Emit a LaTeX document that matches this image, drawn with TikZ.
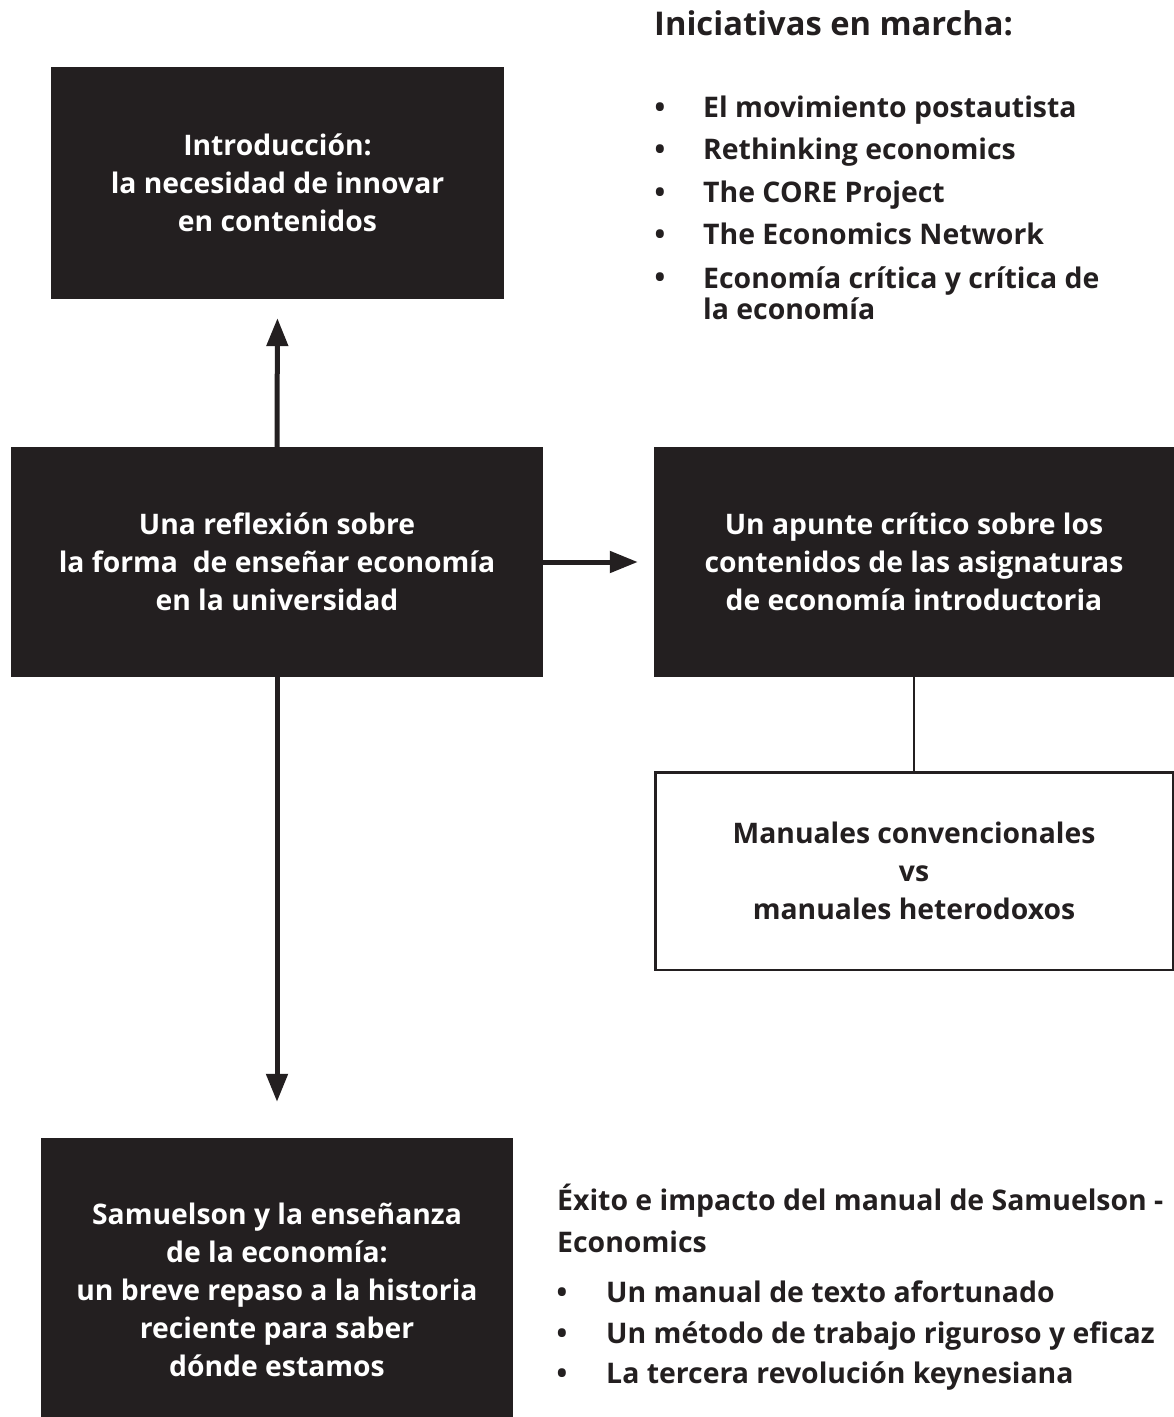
\documentclass[tikz,border=0pt]{standalone}
\usepackage{fontspec}
\setmainfont{Open Sans}
\usetikzlibrary{arrows.meta}
\definecolor{ink}{HTML}{231F20}
\newcommand\bxfont{\bfseries\fontsize{28.3}{38}\selectfont}
\newcommand\hdfont{\bfseries\fontsize{32.7}{40}\selectfont}
\newcommand\lsfont{\bfseries\fontsize{28.4}{31}\selectfont}
\begin{document}
\begin{tikzpicture}[x=1pt,y=-1pt,
  darkbox/.style={fill=ink,draw=none,text=white,align=center,font=\bxfont,inner sep=0pt},
  whitebox/.style={draw=ink,line width=2.5pt,fill=white,text=ink,align=center,font=\bxfont,inner sep=0pt},
  arr/.style={draw=ink,line width=5pt,-{Triangle[width=21pt,length=28pt]}},
  link/.style={draw=ink,line width=2.5pt},
  lst/.style={anchor=base west,font=\lsfont,text=ink,align=left,inner sep=0pt},
  bul/.style={anchor=base,font=\lsfont,text=ink,inner sep=0pt}]
\useasboundingbox (0,0) rectangle (1174,1417);
% boxes
\node[darkbox,minimum width=453pt,minimum height=232pt] (A) at (277.5,183) {Introducción:\\la necesidad de innovar\\en contenidos};
\node[darkbox,minimum width=532pt,minimum height=230pt] (B) at (277,562) {Una reflexión sobre\\la forma~ de enseñar economía\\en la universidad};
\node[darkbox,minimum width=520pt,minimum height=230pt] (C) at (914,562) {Un apunte crítico sobre los\\contenidos de las asignaturas\\de economía introductoria};
\node[whitebox,minimum width=517.5pt,minimum height=197.5pt] (D) at (914,871) {Manuales convencionales\\vs\\manuales heterodoxos};
\node[darkbox,minimum width=472pt,minimum height=279pt] (E) at (277,1277.5) {};
\node[text=white,align=center,font=\bxfont,inner sep=0pt] (Et) at (277,1290) {Samuelson y la enseñanza\\de la economía:\\un breve repaso a la historia\\reciente para saber\\dónde estamos};
% connectors
\draw[arr,shorten >=19pt] (B.north) -- (A.south);
\draw[arr,shorten >=16pt] (B.east) -- (C.west);
\draw[arr,shorten >=36pt] (B.south) -- (E.north);
\draw[link] (C.south) -- (D.north);
% top right list
\node[anchor=base west,font=\hdfont,text=ink,inner sep=0pt] (T) at (654,35) {Iniciativas en marcha:};
\node[bul] (b1) at (660,117) {•};
\node[lst] (i1) at (703,117) {El movimiento postautista};
\node[bul] (b2) at (660,159.5) {•};
\node[lst] (i2) at (703,159.5) {Rethinking economics};
\node[bul] (b3) at (660,202) {•};
\node[lst] (i3) at (703,202) {The CORE Project};
\node[bul] (b4) at (660,244.5) {•};
\node[lst] (i4) at (703,244.5) {The Economics Network};
\node[bul] (b5) at (660,287) {•};
\node[lst] (i5) at (703,319) {Economía crítica y crítica de\\la economía};
% bottom right list
\node[lst,font=\bfseries\fontsize{28.4}{42}\selectfont] (S) at (557,1252) {Éxito e impacto del manual de Samuelson -\\Economics};
\node[bul] (c1) at (562,1302) {•};
\node[lst] (j1) at (606,1302) {Un manual de texto afortunado};
\node[bul] (c2) at (562,1343) {•};
\node[lst] (j2) at (606,1343) {Un método de trabajo riguroso y eficaz};
\node[bul] (c3) at (562,1383) {•};
\node[lst] (j3) at (606,1383) {La tercera revolución keynesiana};
\end{tikzpicture}
\end{document}
